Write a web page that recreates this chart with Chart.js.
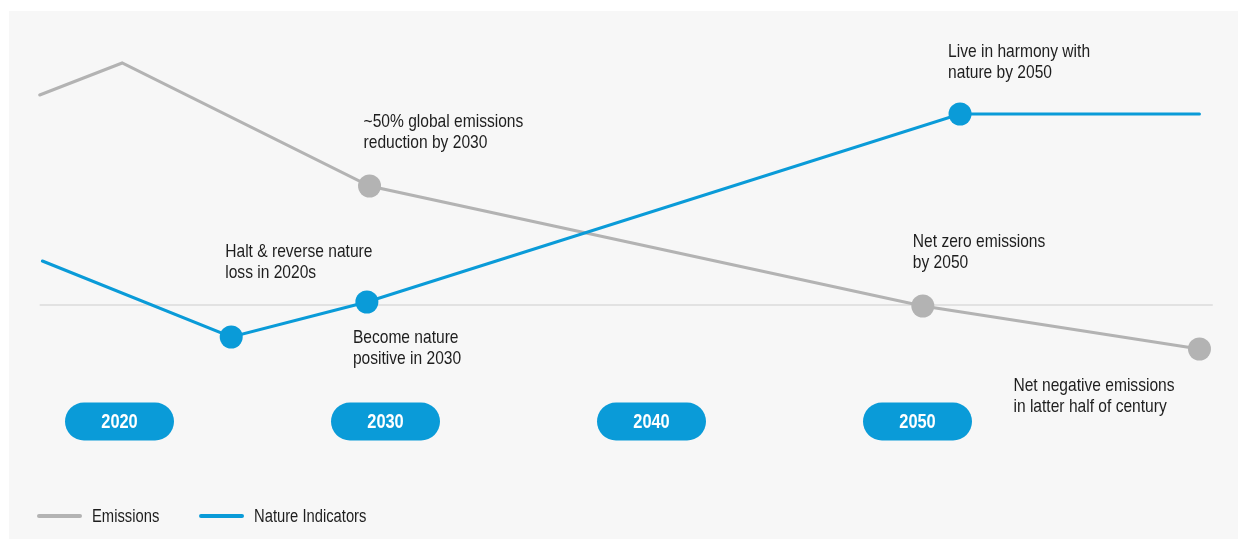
<!DOCTYPE html>
<html>
<head>
<meta charset="utf-8">
<script src="https://cdn.jsdelivr.net/npm/chart.js@4"></script>
<style>
  html, body { margin: 0; padding: 0; background: #ffffff; }
  #wrap { position: relative; width: 1238px; height: 539px; overflow: hidden; }
  #panel { position: absolute; left: 9px; top: 11px; right: 0; bottom: 0; background: #f7f7f7; }
  #chart { position: absolute; left: 0; top: 0; }
</style>
</head>
<body>
<div id="wrap">
  <div id="panel"></div>
  <canvas id="chart" width="1238" height="539"></canvas>
</div>
<script>
// Series data (x = year, y = relative index, 0 = baseline)
const emissionYears = [2017.0, 2020.1, 2029.4, 2050.2, 2060.6];
const emissionValues = [105, 121, 59.5, -0.5, -22];
const natureYears = [2017.1, 2024.2, 2029.3, 2051.6, 2060.6];
const natureValues = [22, -16, 1.5, 95.5, 95.5];
const baselineYears = [2017.0, 2061.1];
const baselineValues = [0, 0];

const seriesNames = ['Emissions', 'Nature Indicators'];
const yearTicks = [2020, 2030, 2040, 2050];

// Milestone notes, attached to a point of a series
const notes = [
    { series: 0, index: 2, lines: ['~50% global emissions', 'reduction by 2030'] },
    { series: 1, index: 1, lines: ['Halt & reverse nature', 'loss in 2020s'] },
    { series: 1, index: 2, lines: ['Become nature', 'positive in 2030'] },
    { series: 1, index: 3, lines: ['Live in harmony with', 'nature by 2050'] },
    { series: 0, index: 3, lines: ['Net zero emissions', 'by 2050'] },
    { series: 0, index: 4, lines: ['Net negative emissions', 'in latter half of century'] }
];

// Text offsets for the notes (pixels from the point)
const noteOffsets = [[-6, -64], [-6, -85], [-14, 36], [-12, -62], [-10, -64], [-186, 37]];

const GREY = '#b3b3b3';
const BLUE = '#0a9bd8';
const TEXT = '#1e1e1e';
const FONT = '"Liberation Sans", Arial, sans-serif';
const NARROW = 0.82; // squeeze to look like a narrow face

Chart.defaults.font.family = FONT;

function toPoints(xs, ys) {
    return xs.map((x, i) => ({ x: x, y: ys[i] }));
}

function narrowText(ctx, text, x, y) {
    ctx.save();
    ctx.translate(x, y);
    ctx.scale(NARROW, 1);
    ctx.fillText(text, 0, 0);
    ctx.restore();
}

// Draws the year pills along the bottom
const yearPills = {
    id: 'yearPills',
    beforeDatasetsDraw(chart) {
        const ctx = chart.ctx;
        const xScale = chart.scales.x;
        ctx.save();
        yearTicks.forEach(year => {
            const cx = xScale.getPixelForValue(year);
            const cy = 421.5;
            ctx.fillStyle = BLUE;
            ctx.beginPath();
            ctx.roundRect(cx - 54.5, cy - 19, 109, 38, 19);
            ctx.fill();
            ctx.fillStyle = '#ffffff';
            ctx.font = 'bold 20px ' + FONT;
            ctx.textAlign = 'center';
            ctx.textBaseline = 'middle';
            narrowText(ctx, String(year), cx, cy + 1);
        });
        ctx.restore();
    }
};

// Draws the milestone notes
const milestoneNotes = {
    id: 'milestoneNotes',
    afterDatasetsDraw(chart) {
        const ctx = chart.ctx;
        ctx.save();
        ctx.fillStyle = TEXT;
        ctx.font = '19px ' + FONT;
        ctx.textAlign = 'left';
        ctx.textBaseline = 'middle';
        notes.forEach((note, i) => {
            const el = chart.getDatasetMeta(note.series).data[note.index];
            const [dx, dy] = noteOffsets[i];
            note.lines.forEach((line, j) => {
                narrowText(ctx, line, el.x + dx, el.y + dy + j * 21);
            });
        });
        ctx.restore();
    }
};

// Legend text in the narrow style, placed in the legend's own boxes
const legendText = {
    id: 'legendText',
    afterDraw(chart) {
        const legend = chart.legend;
        if (!legend || !legend.legendHitBoxes) return;
        const ctx = chart.ctx;
        ctx.save();
        ctx.fillStyle = TEXT;
        ctx.font = '18px ' + FONT;
        ctx.textAlign = 'left';
        ctx.textBaseline = 'middle';
        legend.legendItems.forEach((item, i) => {
            const box = legend.legendHitBoxes[i];
            narrowText(ctx, item.text, box.left + 41 + 12, box.top + box.height / 2 + 1);
        });
        ctx.restore();
    }
};

new Chart(document.getElementById('chart'), {
    type: 'line',
    data: {
        datasets: [
            {
                label: seriesNames[0],
                data: toPoints(emissionYears, emissionValues),
                borderColor: GREY,
                backgroundColor: GREY,
                borderWidth: 3,
                borderCapStyle: 'round',
                pointRadius: [0, 0, 11.5, 11.5, 11.5],
                pointBackgroundColor: GREY,
                pointBorderWidth: 0,
                tension: 0,
                order: 1
            },
            {
                label: seriesNames[1],
                data: toPoints(natureYears, natureValues),
                borderColor: BLUE,
                backgroundColor: BLUE,
                borderWidth: 3,
                borderCapStyle: 'round',
                pointRadius: [0, 11.5, 11.5, 11.5, 0],
                pointBackgroundColor: BLUE,
                pointBorderWidth: 0,
                tension: 0,
                order: 0
            },
            {
                label: 'baseline',
                data: toPoints(baselineYears, baselineValues),
                borderColor: '#e2e2e2',
                borderWidth: 2,
                pointRadius: 0,
                order: 2
            }
        ]
    },
    options: {
        responsive: false,
        animation: false,
        layout: { autoPadding: false, padding: { left: 9, right: 0, top: 0, bottom: 4 } },
        scales: {
            x: { type: 'linear', display: false, min: 2015.8459, max: 2062.049 },
            y: { type: 'linear', display: false, min: -86, max: 152.5 }
        },
        plugins: {
            tooltip: { enabled: false },
            legend: {
                position: 'bottom',
                align: 'start',
                labels: {
                    font: { size: 18 },
                    usePointStyle: true,
                    pointStyle: 'line',
                    pointStyleWidth: 41,
                    padding: 30,
                    generateLabels: chart => Chart.defaults.plugins.legend.labels.generateLabels(chart)
                        .filter(item => item.datasetIndex !== 2)
                        .sort((a, b) => a.datasetIndex - b.datasetIndex)
                        .map(item => Object.assign(item, {
                            lineWidth: 4,
                            lineCap: 'round',
                            strokeStyle: chart.data.datasets[item.datasetIndex].borderColor,
                            fontColor: 'rgba(0,0,0,0)'
                        }))
                }
            }
        }
    },
    plugins: [yearPills, milestoneNotes, legendText]
});
</script>
</body>
</html>
